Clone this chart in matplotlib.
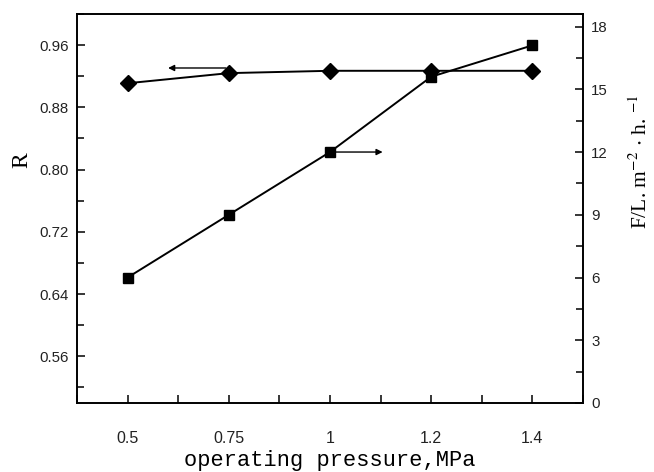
import matplotlib
matplotlib.use('Agg')
import matplotlib.pyplot as plt
from matplotlib.ticker import MultipleLocator

# values
pressure_labels = ['0.5', '0.75', '1', '1.2', '1.4']
rejection = [0.911, 0.924, 0.927, 0.927, 0.927]
flux = [6.0, 9.0, 12.0, 15.6, 17.1]

plt.rcParams['font.family'] = ['Liberation Sans', 'DejaVu Sans']
plt.rcParams['mathtext.fontset'] = 'stix'

fig = plt.figure(figsize=(6.54, 4.72), dpi=100)
ax1 = fig.add_axes([77 / 654, 69 / 472, 506 / 654, 389 / 472])
ax2 = ax1.twinx()

x = list(range(len(pressure_labels)))

# R on the left axis (diamonds)
ax1.plot(x, rejection, color='black', lw=1.4, marker='D', markersize=8.5)
# flux on the right axis (squares)
ax2.plot(x, flux, color='black', lw=1.4, marker='s', markersize=7.5)

ax1.set_xlim(-0.5, 4.5)
ax1.set_ylim(0.50, 1.00)
ax2.set_ylim(0, 18.6)

ax1.set_xticks(x)
ax1.set_xticklabels(pressure_labels)
ax1.xaxis.set_minor_locator(MultipleLocator(0.5))
ax1.yaxis.set_minor_locator(MultipleLocator(0.04))
ax1.set_yticks([0.56, 0.64, 0.72, 0.80, 0.88, 0.96])
ax1.set_yticklabels(['0.56', '0.64', '0.72', '0.80', '0.88', '0.96'])
ax2.set_yticks([0, 3, 6, 9, 12, 15, 18])
ax2.yaxis.set_minor_locator(MultipleLocator(1.5))

for ax in (ax1, ax2):
    ax.tick_params(which='both', direction='in', labelsize=10.8,
                   labelcolor='#222222', width=1.1)
    ax.tick_params(which='major', length=6)
    ax.tick_params(which='minor', length=5)
    for sp in ax.spines.values():
        sp.set_linewidth(1.2)
ax1.tick_params(axis='x', which='both', length=6, pad=20, labelsize=11.5)
ax1.tick_params(axis='y', pad=6)
ax2.tick_params(axis='y', pad=6)

# arrows pointing to each curve's axis
ax1.annotate('', xy=(0.40, 0.9306), xytext=(0.97, 0.9306),
             arrowprops=dict(arrowstyle='-|>', lw=1.0, color='black',
                             mutation_scale=9, shrinkA=0, shrinkB=0))
ax2.annotate('', xy=(2.52, 12.0), xytext=(2.06, 12.0),
             arrowprops=dict(arrowstyle='-|>', lw=1.0, color='black',
                             mutation_scale=9, shrinkA=0, shrinkB=0))

# axis labels
ax1.set_xlabel('operating pressure,MPa', family='Liberation Mono', fontsize=15.8)
ax1.xaxis.label.set_va('center')
ax1.xaxis.set_label_coords(0.5, -0.147)
ax1.set_ylabel('R', family='Liberation Serif', fontsize=17)
ax1.yaxis.label.set_va('center')
ax1.yaxis.set_label_coords(-0.108, 0.624)
ax2.set_ylabel(r'F/L. m$^{-2}$ $\cdot$ h. $^{-1}$', family='Liberation Serif',
               fontsize=15.5, rotation=90)
ax2.yaxis.label.set_va('center')
ax2.yaxis.set_label_coords(1.115, 0.62)

fig.savefig('out.png', dpi=100)
